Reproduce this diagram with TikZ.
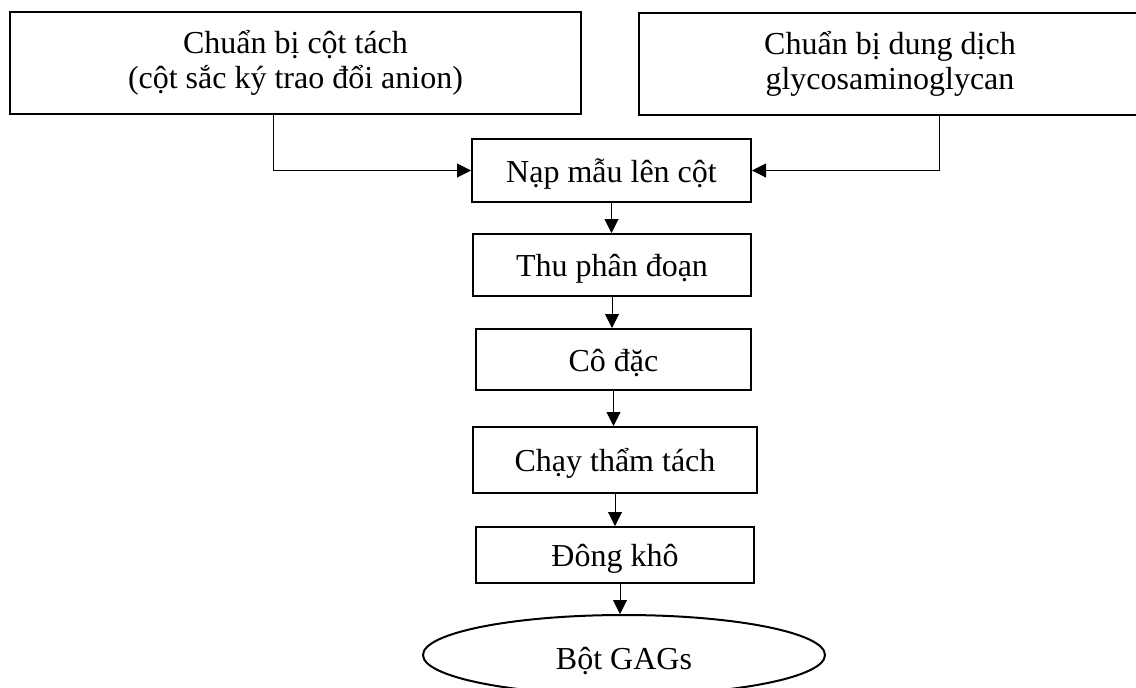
\documentclass[tikz,border=0pt]{standalone}
\usepackage{fontspec}
\setmainfont{Liberation Serif}
\usetikzlibrary{arrows.meta,shapes.geometric}
\begin{document}
\begin{tikzpicture}[x=0.5pt,y=-0.5pt,
  every node/.style={font=\fontsize{16}{17.5}\selectfont, inner sep=0pt, align=center},
  box/.style={draw, line width=1pt, rectangle},
  oneline/.style={box, text height=14pt, text depth=2.5pt},
  oval/.style={draw, line width=1pt, ellipse, text height=16pt, text depth=2pt},
  arr/.style={line width=0.5pt, -{Triangle[length=7pt,width=7pt]}}]
\useasboundingbox (0,0) rectangle (1136,687);
\clip (0,0) rectangle (1136,687);
\node[box, minimum width=285.5pt, minimum height=51pt] (L) at (295.5,63) {Chuẩn bị cột tách\\(cột sắc ký trao đổi anion)};
\node[box, minimum width=251pt, minimum height=51pt] (R) at (890,63.5) {Chuẩn bị dung dịch\\glycosaminoglycan};
\node[oneline, minimum width=139.5pt, minimum height=31.5pt] (Nap) at (611.5,170.5) {Nạp mẫu lên cột};
\node[oneline, minimum width=139pt, minimum height=31pt] (Thu) at (612,265) {Thu phân đoạn};
\node[oneline, minimum width=137.5pt, minimum height=30.5pt] (Co) at (613.5,359.5) {Cô đặc};
\node[oneline, minimum width=142pt, minimum height=33pt] (Chay) at (615,460) {Chạy thẩm tách};
\node[oneline, minimum width=139pt, minimum height=28pt] (Dong) at (615,555) {Đông khô};
\node[oval, minimum width=201pt, minimum height=40pt] (Bot) at (624,655) {Bột GAGs};
\coordinate (lk) at (273,170);
\coordinate (rk) at (939,170);
\draw[arr] (L.south -| lk) |- (Nap.west);
\draw[arr] (R.south -| rk) |- (Nap.east);
\draw[arr] (Nap.south) -- (Nap.south |- Thu.north);
\draw[arr] (Thu.south) -- (Thu.south |- Co.north);
\draw[arr] (Co.south) -- (Co.south |- Chay.north);
\draw[arr] (Chay.south) -- (Chay.south |- Dong.north);
\draw[arr] ([xshift=2.5pt]Dong.south) -- ([xshift=2.5pt]Dong.south |- Bot.north);
\end{tikzpicture}
\end{document}
